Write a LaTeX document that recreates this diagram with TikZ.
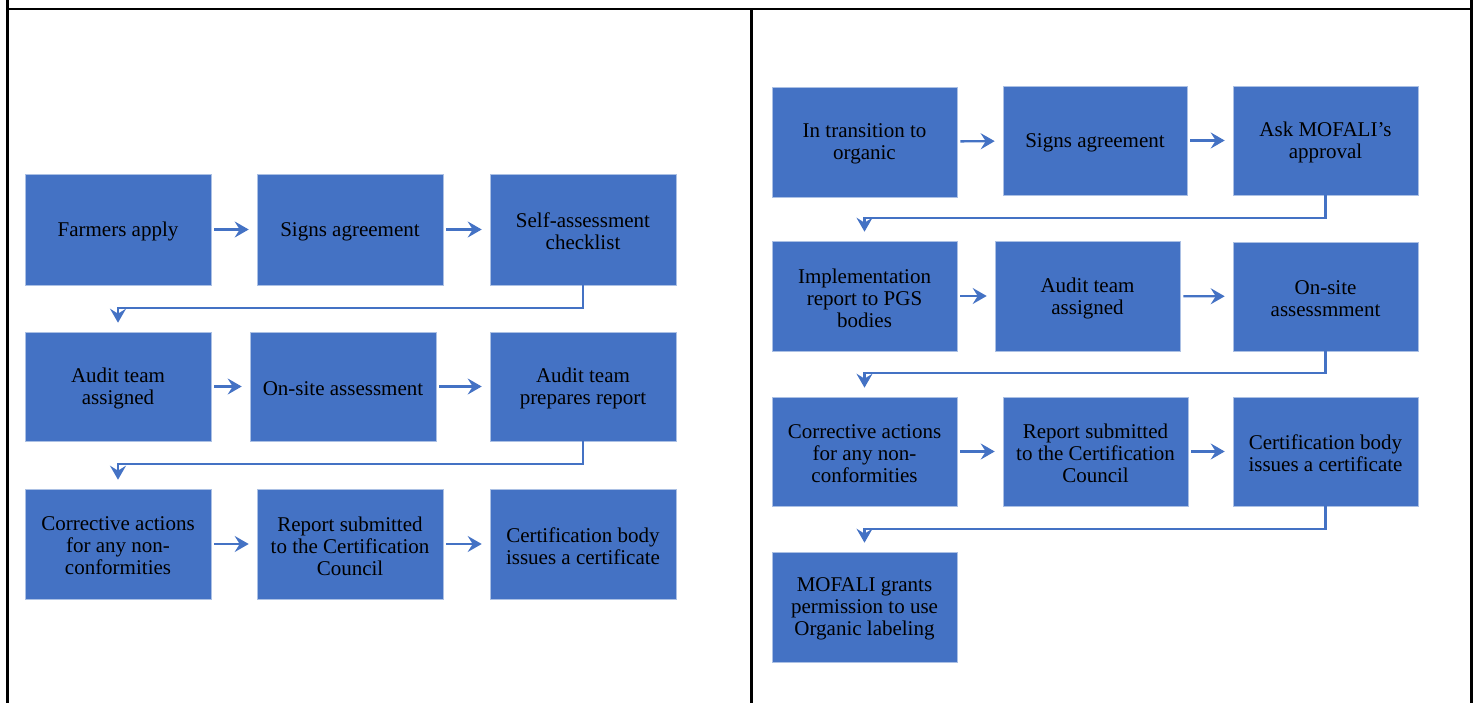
\documentclass[tikz,border=0pt]{standalone}
\usepackage{fontspec}
\setmainfont{Liberation Serif}
\usetikzlibrary{arrows.meta}
\definecolor{boxblue}{HTML}{4472C4}
\tikzset{
  flowbox/.style={rectangle, fill=boxblue, draw=white!55!boxblue, line width=0.6pt,
    inner sep=0pt},
  flowtext/.style={inner sep=0pt, align=center, text=black,
    font=\fontsize{21}{22}\selectfont},
  flowarrow/.style={draw=boxblue, line width=2.3pt,
    -{Stealth[length=14pt,width=16pt,inset=5pt]}, shorten <=3pt, shorten >=8pt},
  turnarrow/.style={draw=boxblue, line width=2.3pt,
    -{Stealth[length=14pt,width=16pt,inset=5pt]}},
  tableline/.style={draw=black, line width=2.2pt}
}
\newcommand{\mkbox}[6]{%
  \node[flowbox, minimum width={(#4)-(#2)}, minimum height={(#5)-(#3)}]
    (#1) at ({((#2)+(#4))/2},{((#3)+(#5))/2}) {};
  \node[flowtext] (#1t) at ([yshift=-2pt]#1.center) {#6};}
\begin{document}
\begin{tikzpicture}[x=1pt,y=-1pt]
\useasboundingbox (0,0) rectangle (1478,703);
% table lines
\coordinate (tl) at (7,9);
\coordinate (tr) at (1472.5,9);
\draw[tableline] (tl) -- (tr);
\draw[tableline] (7.5,0) -- (7.5,703);
\draw[tableline] (751.5,9) -- (751.5,703);
\draw[tableline] (1471.5,0) -- (1471.5,703);
% left panel
\mkbox{L1}{25}{174}{211}{285}{Farmers apply}
\mkbox{L2}{257}{174}{443}{285}{Signs agreement}
\mkbox{L3}{490}{174}{676}{285}{Self-assessment\\checklist}
\mkbox{L4}{25}{332}{211}{441}{Audit team\\assigned}
\mkbox{L5}{250}{332}{436}{441}{On-site assessment}
\mkbox{L6}{490}{332}{676}{441}{Audit team\\prepares report}
\mkbox{L7}{25}{489}{211}{599}{Corrective actions\\for any non-\\conformities}
\mkbox{L8}{257}{489}{443}{599}{Report submitted\\to the Certification\\Council}
\mkbox{L9}{490}{489}{676}{599}{Certification body\\issues a certificate}
\draw[flowarrow] (L1) -- (L2);
\draw[flowarrow] (L2) -- (L3);
\draw[flowarrow] (L4) -- (L5);
\draw[flowarrow] (L5) -- (L6);
\draw[flowarrow] (L7) -- (L8);
\draw[flowarrow] (L8) -- (L9);
\draw[turnarrow] (L3.south) -- ++(0,23) -| ([yshift=9pt]L4.north);
\draw[turnarrow] (L6.south) -- ++(0,23) -| ([yshift=9pt]L7.north);
% right panel
\mkbox{R1}{772}{87}{957}{197}{In transition to\\organic}
\mkbox{R2}{1003}{86}{1187}{195}{Signs agreement}
\mkbox{R3}{1233}{86}{1418}{195}{Ask MOFALI's\\approval}
\mkbox{R4}{772}{241}{957}{351}{Implementation\\report to PGS\\bodies}
\mkbox{R5}{995}{241}{1180}{351}{Audit team\\assigned}
\mkbox{R6}{1233}{242}{1418}{351}{On-site\\assessmment}
\mkbox{R7}{772}{397}{957}{506}{Corrective actions\\for any non-\\conformities}
\mkbox{R8}{1003}{397}{1188}{506}{Report submitted\\to the Certification\\Council}
\mkbox{R9}{1233}{397}{1418}{506}{Certification body\\issues a certificate}
\mkbox{R10}{772}{552}{957}{662}{MOFALI grants\\permission to use\\Organic labeling}
\draw[flowarrow] (R1) -- (R2);
\draw[flowarrow] (R2) -- (R3);
\draw[flowarrow] (R4) -- (R5);
\draw[flowarrow] (R5) -- (R6);
\draw[flowarrow] (R7) -- (R8);
\draw[flowarrow] (R8) -- (R9);
\draw[turnarrow] (R3.south) -- ++(0,23) -| ([yshift=9pt]R4.north);
\draw[turnarrow] (R6.south) -- ++(0,22) -| ([yshift=9pt]R7.north);
\draw[turnarrow] (R9.south) -- ++(0,23) -| ([yshift=9pt]R10.north);
\end{tikzpicture}
\end{document}
